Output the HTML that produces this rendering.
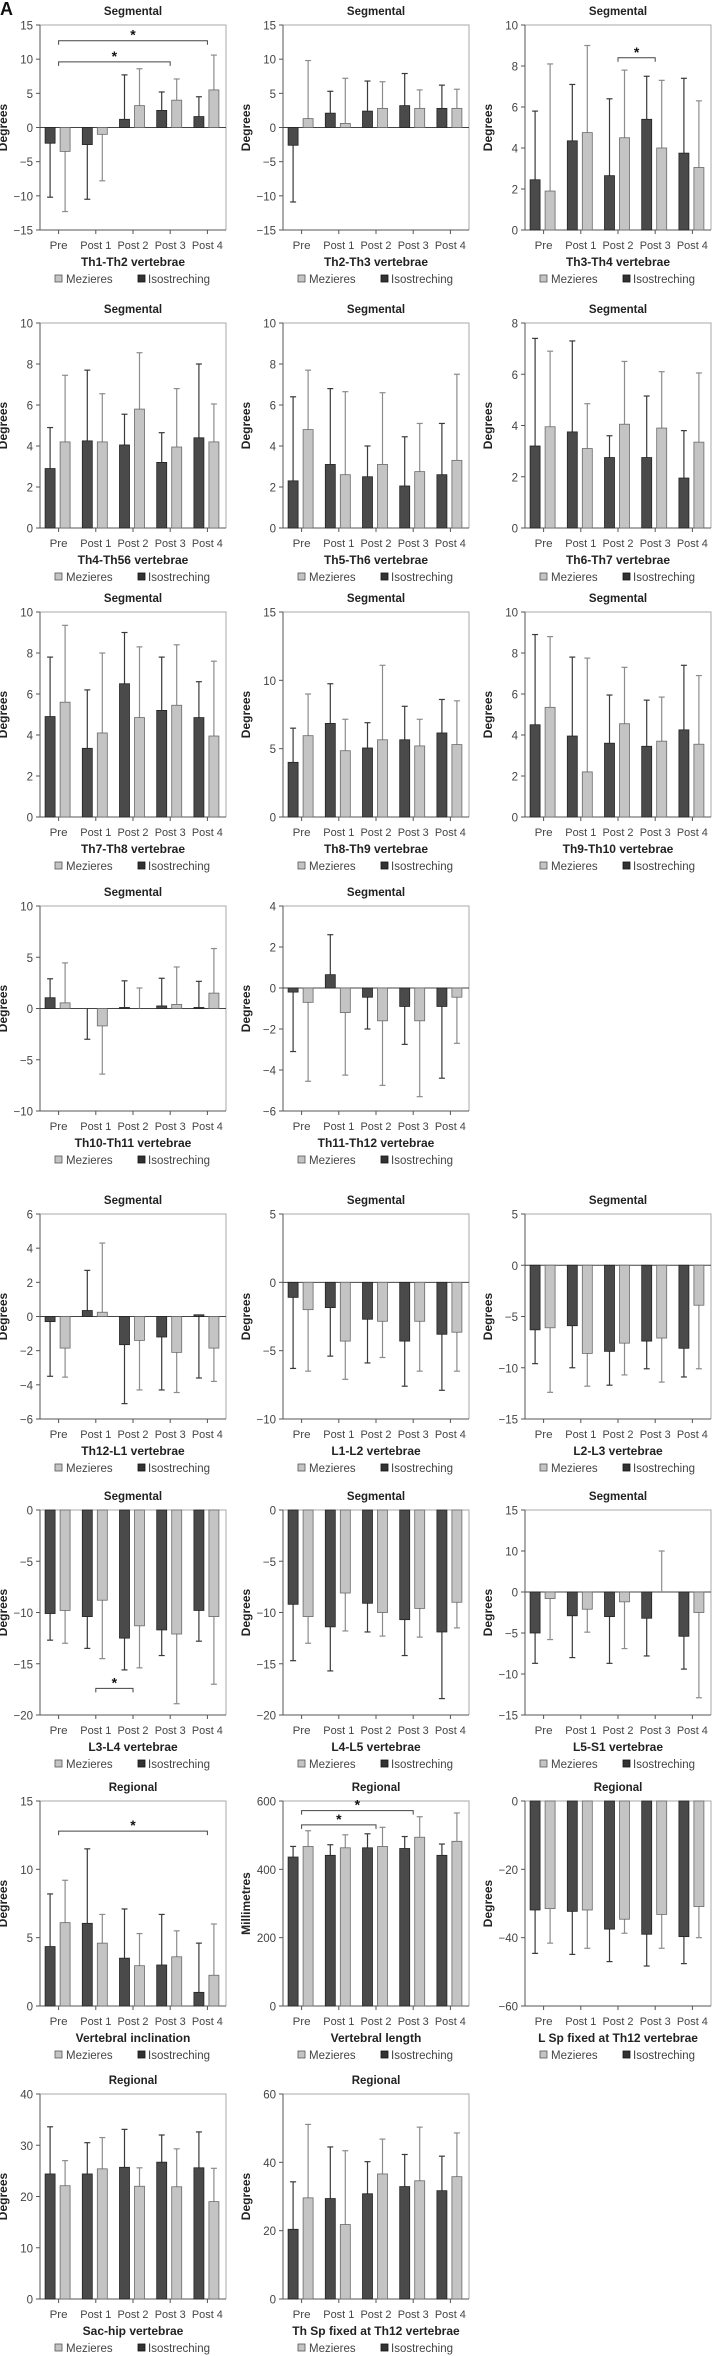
<!DOCTYPE html>
<html><head><meta charset="utf-8"><style>
html,body{margin:0;padding:0;background:#fff;}
svg{display:block;font-family:"Liberation Sans",sans-serif;}
</style></head>
<body>
<svg id="fig" width="713" height="2356" viewBox="0 0 713 2356" xmlns="http://www.w3.org/2000/svg">
<text x="0" y="15" font-size="18" font-weight="bold" fill="#111">A</text>
</svg>
<script>
const cats=["Pre","Post 1","Post 2","Post 3","Post 4"];

const th1th2Iso=[-2.3,-2.5,1.2,2.5,1.6];
const th1th2IsoErr=[-10.2,-10.5,7.7,5.2,4.5];
const th1th2Mez=[-3.5,-1.0,3.2,4.0,5.5];
const th1th2MezErr=[-12.3,-7.8,8.6,7.1,10.6];
const th1th2Br=[[0,3,9.6],[0,4,12.7]];

const th2th3Iso=[-2.6,2.1,2.4,3.2,2.8];
const th2th3IsoErr=[-10.9,5.3,6.8,7.9,6.2];
const th2th3Mez=[1.3,0.6,2.8,2.8,2.8];
const th2th3MezErr=[9.8,7.2,6.7,5.5,5.6];

const th3th4Iso=[2.45,4.35,2.65,5.4,3.75];
const th3th4IsoErr=[5.8,7.1,6.4,7.5,7.4];
const th3th4Mez=[1.9,4.75,4.5,4.0,3.05];
const th3th4MezErr=[8.1,9.0,7.8,7.3,6.3];
const th3th4Br=[[2,3,8.4]];

const th4th5Iso=[2.9,4.25,4.05,3.2,4.4];
const th4th5IsoErr=[4.9,7.7,5.55,4.65,8.0];
const th4th5Mez=[4.2,4.2,5.8,3.95,4.2];
const th4th5MezErr=[7.45,6.55,8.55,6.8,6.05];

const th5th6Iso=[2.3,3.1,2.5,2.05,2.6];
const th5th6IsoErr=[6.4,6.8,4.0,4.45,5.1];
const th5th6Mez=[4.8,2.6,3.1,2.75,3.3];
const th5th6MezErr=[7.7,6.65,6.6,5.1,7.5];

const th6th7Iso=[3.2,3.75,2.75,2.75,1.95];
const th6th7IsoErr=[7.4,7.3,3.6,5.15,3.8];
const th6th7Mez=[3.95,3.1,4.05,3.9,3.35];
const th6th7MezErr=[6.9,4.85,6.5,6.1,6.05];

const th7th8Iso=[4.9,3.35,6.5,5.2,4.85];
const th7th8IsoErr=[7.8,6.2,9.0,7.8,6.6];
const th7th8Mez=[5.6,4.1,4.85,5.45,3.95];
const th7th8MezErr=[9.35,8.0,8.3,8.4,7.6];

const th8th9Iso=[4.0,6.85,5.05,5.65,6.15];
const th8th9IsoErr=[6.5,9.75,6.9,8.1,8.6];
const th8th9Mez=[5.95,4.85,5.65,5.2,5.3];
const th8th9MezErr=[9.0,7.15,11.1,7.15,8.5];

const th9th10Iso=[4.5,3.95,3.6,3.45,4.25];
const th9th10IsoErr=[8.9,7.8,5.95,5.7,7.4];
const th9th10Mez=[5.35,2.2,4.55,3.7,3.55];
const th9th10MezErr=[8.8,7.75,7.3,5.85,6.9];

const th10th11Iso=[1.05,0.0,0.1,0.25,0.1];
const th10th11IsoErr=[2.9,-3.0,2.7,2.95,2.65];
const th10th11Mez=[0.55,-1.7,0.0,0.4,1.5];
const th10th11MezErr=[4.45,-6.4,2.0,4.05,5.85];

const th11th12Iso=[-0.2,0.65,-0.45,-0.9,-0.9];
const th11th12IsoErr=[-3.1,2.6,-2.0,-2.75,-4.4];
const th11th12Mez=[-0.7,-1.2,-1.6,-1.6,-0.45];
const th11th12MezErr=[-4.55,-4.25,-4.75,-5.3,-2.7];

const th12l1Iso=[-0.3,0.35,-1.65,-1.2,0.1];
const th12l1IsoErr=[-3.5,2.7,-5.1,-4.3,-3.6];
const th12l1Mez=[-1.85,0.25,-1.4,-2.1,-1.85];
const th12l1MezErr=[-3.55,4.3,-4.3,-4.45,-3.8];

const l1l2Iso=[-1.1,-1.85,-2.7,-4.3,-3.8];
const l1l2IsoErr=[-6.3,-5.4,-5.9,-7.6,-7.9];
const l1l2Mez=[-2.0,-4.3,-2.85,-2.85,-3.65];
const l1l2MezErr=[-6.5,-7.1,-5.5,-6.5,-6.5];

const l2l3Iso=[-6.3,-5.9,-8.4,-7.4,-8.1];
const l2l3IsoErr=[-9.6,-10.0,-11.7,-10.1,-10.9];
const l2l3Mez=[-6.1,-8.6,-7.6,-7.1,-3.9];
const l2l3MezErr=[-12.4,-11.8,-10.7,-11.4,-10.1];

const l3l4Iso=[-10.1,-10.4,-12.5,-11.7,-9.8];
const l3l4IsoErr=[-12.7,-13.5,-15.6,-14.2,-12.8];
const l3l4Mez=[-9.8,-8.8,-11.3,-12.1,-10.4];
const l3l4MezErr=[-13.0,-14.5,-15.4,-18.9,-17.0];
const l3l4Br=[[1,2,-17.4]];

const l4l5Iso=[-9.2,-11.4,-9.1,-10.7,-11.9];
const l4l5IsoErr=[-14.7,-15.7,-11.9,-14.2,-18.4];
const l4l5Mez=[-10.4,-8.1,-10.0,-9.6,-9.0];
const l4l5MezErr=[-13.0,-11.8,-12.3,-12.4,-11.5];

const l5s1Iso=[-5.0,-2.9,-3.0,-3.2,-5.4];
const l5s1IsoErr=[-8.7,-8.0,-8.7,-7.8,-9.4];
const l5s1Mez=[-0.8,-2.1,-1.2,0.0,-2.5];
const l5s1MezErr=[-5.8,-4.9,-6.9,5.0,-12.9];
const l5s1TickLabels=["-15","-10","-5","0","10","15"];

const inclIso=[4.35,6.05,3.5,3.0,1.0];
const inclIsoErr=[8.2,11.5,7.1,6.7,4.6];
const inclMez=[6.1,4.6,2.95,3.6,2.25];
const inclMezErr=[9.2,6.7,5.3,5.5,6.0];
const inclBr=[[0,4,12.8]];

const lenIso=[436,441,463,461,441];
const lenIsoErr=[467,472,504,496,474];
const lenMez=[467,463,467,494,482];
const lenMezErr=[513,501,523,554,565];
const lenBr=[[0,2,530],[0,3,572]];

const lspIso=[-31.9,-32.3,-37.5,-39.0,-39.7];
const lspIsoErr=[-44.6,-44.9,-47.0,-48.3,-47.6];
const lspMez=[-31.5,-31.9,-34.6,-33.2,-30.9];
const lspMezErr=[-41.6,-43.1,-38.7,-43.1,-40.0];

const sacIso=[24.4,24.4,25.7,26.7,25.6];
const sacIsoErr=[33.6,30.5,33.1,32.0,32.6];
const sacMez=[22.1,25.4,22.0,21.9,19.0];
const sacMezErr=[27.0,31.5,25.6,29.3,25.5];

const thspIso=[20.4,29.4,30.8,32.9,31.7];
const thspIsoErr=[34.3,44.5,40.2,42.3,41.8];
const thspMez=[29.6,21.8,36.6,34.6,35.8];
const thspMezErr=[51.1,43.4,46.8,50.3,48.6];

const rowY=[0,298,587,881,1189,1485,1776,2069];
const colX=[40,283,525];
const W=186;

const panels=[
 {id:'th1-th2',t:'Segmental',s:'Th1-Th2 vertebrae',y:'Degrees',min:-15,max:15,step:5,iso:th1th2Iso,isoE:th1th2IsoErr,mez:th1th2Mez,mezE:th1th2MezErr,br:th1th2Br,r:0,c:0},
 {id:'th2-th3',t:'Segmental',s:'Th2-Th3 vertebrae',y:'Degrees',min:-15,max:15,step:5,iso:th2th3Iso,isoE:th2th3IsoErr,mez:th2th3Mez,mezE:th2th3MezErr,r:0,c:1},
 {id:'th3-th4',t:'Segmental',s:'Th3-Th4 vertebrae',y:'Degrees',min:0,max:10,step:2,iso:th3th4Iso,isoE:th3th4IsoErr,mez:th3th4Mez,mezE:th3th4MezErr,br:th3th4Br,r:0,c:2},
 {id:'th4-th5',t:'Segmental',s:'Th4-Th56 vertebrae',y:'Degrees',min:0,max:10,step:2,iso:th4th5Iso,isoE:th4th5IsoErr,mez:th4th5Mez,mezE:th4th5MezErr,r:1,c:0},
 {id:'th5-th6',t:'Segmental',s:'Th5-Th6 vertebrae',y:'Degrees',min:0,max:10,step:2,iso:th5th6Iso,isoE:th5th6IsoErr,mez:th5th6Mez,mezE:th5th6MezErr,r:1,c:1},
 {id:'th6-th7',t:'Segmental',s:'Th6-Th7 vertebrae',y:'Degrees',min:0,max:8,step:2,iso:th6th7Iso,isoE:th6th7IsoErr,mez:th6th7Mez,mezE:th6th7MezErr,r:1,c:2},
 {id:'th7-th8',t:'Segmental',s:'Th7-Th8 vertebrae',y:'Degrees',min:0,max:10,step:2,iso:th7th8Iso,isoE:th7th8IsoErr,mez:th7th8Mez,mezE:th7th8MezErr,r:2,c:0},
 {id:'th8-th9',t:'Segmental',s:'Th8-Th9 vertebrae',y:'Degrees',min:0,max:15,step:5,iso:th8th9Iso,isoE:th8th9IsoErr,mez:th8th9Mez,mezE:th8th9MezErr,r:2,c:1},
 {id:'th9-th10',t:'Segmental',s:'Th9-Th10 vertebrae',y:'Degrees',min:0,max:10,step:2,iso:th9th10Iso,isoE:th9th10IsoErr,mez:th9th10Mez,mezE:th9th10MezErr,r:2,c:2},
 {id:'th10-th11',t:'Segmental',s:'Th10-Th11 vertebrae',y:'Degrees',min:-10,max:10,step:5,iso:th10th11Iso,isoE:th10th11IsoErr,mez:th10th11Mez,mezE:th10th11MezErr,r:3,c:0},
 {id:'th11-th12',t:'Segmental',s:'Th11-Th12 vertebrae',y:'Degrees',min:-6,max:4,step:2,iso:th11th12Iso,isoE:th11th12IsoErr,mez:th11th12Mez,mezE:th11th12MezErr,r:3,c:1},
 {id:'th12-l1',t:'Segmental',s:'Th12-L1 vertebrae',y:'Degrees',min:-6,max:6,step:2,iso:th12l1Iso,isoE:th12l1IsoErr,mez:th12l1Mez,mezE:th12l1MezErr,r:4,c:0},
 {id:'l1-l2',t:'Segmental',s:'L1-L2 vertebrae',y:'Degrees',min:-10,max:5,step:5,iso:l1l2Iso,isoE:l1l2IsoErr,mez:l1l2Mez,mezE:l1l2MezErr,r:4,c:1},
 {id:'l2-l3',t:'Segmental',s:'L2-L3 vertebrae',y:'Degrees',min:-15,max:5,step:5,iso:l2l3Iso,isoE:l2l3IsoErr,mez:l2l3Mez,mezE:l2l3MezErr,r:4,c:2},
 {id:'l3-l4',t:'Segmental',s:'L3-L4 vertebrae',y:'Degrees',min:-20,max:0,step:5,iso:l3l4Iso,isoE:l3l4IsoErr,mez:l3l4Mez,mezE:l3l4MezErr,br:l3l4Br,r:5,c:0},
 {id:'l4-l5',t:'Segmental',s:'L4-L5 vertebrae',y:'Degrees',min:-20,max:0,step:5,iso:l4l5Iso,isoE:l4l5IsoErr,mez:l4l5Mez,mezE:l4l5MezErr,r:5,c:1},
 {id:'l5-s1',t:'Segmental',s:'L5-S1 vertebrae',y:'Degrees',min:-15,max:10,step:5,labels:l5s1TickLabels,iso:l5s1Iso,isoE:l5s1IsoErr,mez:l5s1Mez,mezE:l5s1MezErr,r:5,c:2},
 {id:'vertebral-inclination',t:'Regional',s:'Vertebral inclination',y:'Degrees',min:0,max:15,step:5,iso:inclIso,isoE:inclIsoErr,mez:inclMez,mezE:inclMezErr,br:inclBr,r:6,c:0},
 {id:'vertebral-length',t:'Regional',s:'Vertebral length',y:'Millimetres',min:0,max:600,step:200,iso:lenIso,isoE:lenIsoErr,mez:lenMez,mezE:lenMezErr,br:lenBr,r:6,c:1},
 {id:'l-sp-fixed',t:'Regional',s:'L Sp fixed at Th12 vertebrae',y:'Degrees',min:-60,max:0,step:20,iso:lspIso,isoE:lspIsoErr,mez:lspMez,mezE:lspMezErr,r:6,c:2},
 {id:'sac-hip',t:'Regional',s:'Sac-hip vertebrae',y:'Degrees',min:0,max:40,step:10,iso:sacIso,isoE:sacIsoErr,mez:sacMez,mezE:sacMezErr,r:7,c:0},
 {id:'th-sp-fixed',t:'Regional',s:'Th Sp fixed at Th12 vertebrae',y:'Degrees',min:0,max:60,step:20,iso:thspIso,isoE:thspIsoErr,mez:thspMez,mezE:thspMezErr,r:7,c:1}
];

const NS='http://www.w3.org/2000/svg';
const svg=document.getElementById('fig');
function mk(tag,attrs,parent,txt){
  const e=document.createElementNS(NS,tag);
  for(const k in attrs) e.setAttribute(k,attrs[k]);
  if(txt!==undefined) e.textContent=txt;
  parent.appendChild(e);
  return e;
}

panels.forEach(p=>{
  const x0=colX[p.c], y0=rowY[p.r], top=y0+25, bot=y0+230;
  const sy=v=>bot-(v-p.min)/(p.max-p.min)*(bot-top);
  const cx=i=>x0+(i+0.5)*W/5;
  const g=mk('g',{},svg);
  
  

  const t=mk('text',{x:x0+W/2,y:y0+15,'text-anchor':'middle','font-size':11.5,'font-weight':'bold',fill:'#222'},g,p.t);
  
  

  const fr=mk('path',{d:`M${x0} ${top}H${x0+W}V${bot}`,fill:'none',stroke:'#a8a8a8','stroke-width':1},g);
  
  
  const ax=mk('path',{d:`M${x0} ${top}V${bot}H${x0+W}`,fill:'none',stroke:'#555','stroke-width':1},g);
  
  

  let k=0;
  for(let v=p.min; v<=p.max+1e-9; v+=p.step, k++){
    const y=sy(v);
    mk('line',{x1:x0-4,x2:x0,y1:y,y2:y,stroke:'#555'},g);
    const lab=p.labels?p.labels[k]:String(v);
    const tl=mk('text',{x:x0-7,y:y+4.5,'text-anchor':'end','font-size':11.5,fill:'#444'},g,lab.replace('-','\u2212'));
    
    
  }
  if(p.min<0 && p.max>0){
    const z=mk('line',{x1:x0,x2:x0+W,y1:sy(0),y2:sy(0),stroke:'#444','stroke-width':1},g);
    
    
  }
  cats.forEach((c,i)=>{
    mk('line',{x1:cx(i),x2:cx(i),y1:bot,y2:bot+4,stroke:'#555'},g);
    const xl=mk('text',{x:cx(i),y:y0+249,'text-anchor':'middle','font-size':11,'textLength':c.length>3?31:18,'lengthAdjust':'spacingAndGlyphs',fill:'#444'},g,c);
    
    
  });
  const yl=mk('text',{transform:`translate(${x0-33},${(top+bot)/2}) rotate(-90)`,'text-anchor':'middle','font-size':12,'font-weight':'bold',fill:'#222'},g,p.y);
  
  

  const base=sy(Math.min(Math.max(0,p.min),p.max));
  function series(vals,errs,dx,fill,stroke,ecol,nm){
    vals.forEach((v,i)=>{
      const bx=cx(i)+dx, bc=bx+5;
      const yv=sy(v), ye=sy(errs[i]);
      const el=mk('line',{x1:bc,x2:bc,y1:yv,y2:ye,stroke:ecol,'stroke-width':1.2},g);
      
      
      mk('line',{x1:bc-3,x2:bc+3,y1:ye,y2:ye,stroke:ecol,'stroke-width':1.2},g);
      const h=Math.abs(yv-base);
      if(h>0.3){
        const r=mk('rect',{x:bx,y:Math.min(yv,base),width:10,height:h,fill:fill,stroke:stroke,'stroke-width':0.8},g);
        
        
      }
    });
  }
  series(p.iso,p.isoE,-13.5,'#4a4a4a','#222','#3a3a3a','isostreching');
  series(p.mez,p.mezE,1.5,'#c4c4c4','#6a6a6a','#8c8c8c','mezieres');

  (p.br||[]).forEach(b=>{
    const xa=cx(b[0]), xb=cx(b[1]), y=sy(b[2]);
    const bl=mk('path',{d:`M${xa} ${y+4}V${y}H${xb}V${y+4}`,fill:'none',stroke:'#444','stroke-width':1},g);
    
    
    const st=mk('text',{x:(xa+xb)/2,y:y-1,'text-anchor':'middle','font-size':14,'font-weight':'bold',fill:'#111'},g,'*');
    
    
  });

  const sb=mk('text',{x:x0+W/2,y:y0+266,'text-anchor':'middle','font-size':12,'font-weight':'bold',fill:'#222'},g,p.s);
  
  

  const lg=mk('g',{},g);
  
  
  const ly=y0+283;
  const s1=mk('rect',{x:x0+15,y:ly-8,width:7,height:7,fill:'#c4c4c4',stroke:'#555','stroke-width':0.8},lg);
  
  
  const t1=mk('text',{x:x0+26,y:ly,'font-size':11.5,fill:'#444'},lg,'Mezieres');
  
  
  const s2=mk('rect',{x:x0+98,y:ly-8,width:7,height:7,fill:'#333',stroke:'#111','stroke-width':0.8},lg);
  
  
  const t2=mk('text',{x:x0+108,y:ly,'font-size':11.5,fill:'#444'},lg,'Isostreching');
  
  
});
</script>
</body></html>
